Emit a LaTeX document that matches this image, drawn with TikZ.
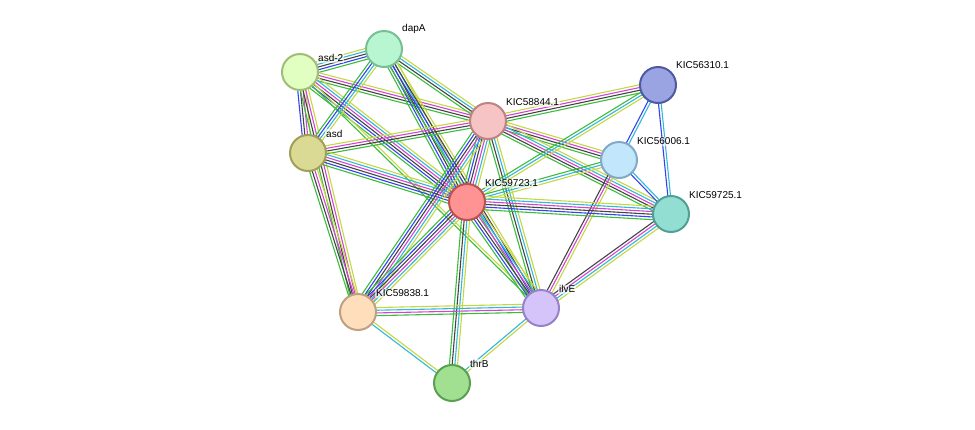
\documentclass[tikz,border=0pt]{standalone}
\usepackage{fontspec}
\setmainfont{Liberation Sans}
\usetikzlibrary{calc,backgrounds}
\definecolor{lnkG}{HTML}{3CBC3C}
\definecolor{lnkB}{HTML}{3344EE}
\definecolor{lnkK}{HTML}{444444}
\definecolor{lnkM}{HTML}{D444D4}
\definecolor{lnkC}{HTML}{33B8D8}
\definecolor{lnkY}{HTML}{C4D844}
\tikzset{
  prot/.style={circle, minimum size=36pt, inner sep=0pt, line width=2pt},
  lbl/.style={font=\fontsize{10}{11}\selectfont, anchor=south west, inner sep=1pt, fill=white, fill opacity=0.6, text opacity=1}
}
% one link = several parallel coloured lines
\newcommand\linkset[3]{%
  \foreach \c [count=\i] in {#3}{\xdef\nlk{\i}}%
  \foreach \c [count=\i] in {#3}{%
    \pgfmathsetmacro\o{(\i-(\nlk+1)/2)*2.7}%
    \draw[\c, line width=1.1pt] ($(#1)!\o pt!90:(#2)$) -- ($(#2)!\o pt!-90:(#1)$);}}
\begin{document}
\begin{tikzpicture}[x=1pt,y=-1pt]
  \useasboundingbox (0,0) rectangle (975,429);

  \node[prot, draw={rgb,255:red,160;green,190;blue,120}, fill={rgb,255:red,224;green,255;blue,192}] (asd2) at (300,72) {};
  \node[prot, draw={rgb,255:red,120;green,190;blue,150}, fill={rgb,255:red,184;green,246;blue,210}] (dapA) at (384,49) {};
  \node[prot, draw={rgb,255:red,190;green,130;blue,130}, fill={rgb,255:red,246;green,196;blue,196}] (k844) at (488,121) {};
  \node[prot, draw={rgb,255:red,80;green,90;blue,160}, fill={rgb,255:red,154;green,164;blue,226}] (k310) at (658,85) {};
  \node[prot, draw={rgb,255:red,160;green,160;blue,90}, fill={rgb,255:red,218;green,218;blue,148}] (asd) at (308,153) {};
  \node[prot, draw={rgb,255:red,130;green,170;blue,200}, fill={rgb,255:red,194;green,230;blue,250}] (k006) at (619,160) {};
  \node[prot, draw={rgb,255:red,190;green,80;blue,80}, fill={rgb,255:red,255;green,146;blue,146}] (k723) at (467,202) {};
  \node[prot, draw={rgb,255:red,80;green,160;blue,150}, fill={rgb,255:red,146;green,222;blue,210}] (k725) at (671,214) {};
  \node[prot, draw={rgb,255:red,190;green,160;blue,130}, fill={rgb,255:red,255;green,222;blue,188}] (k838) at (358,312) {};
  \node[prot, draw={rgb,255:red,150;green,130;blue,200}, fill={rgb,255:red,212;green,196;blue,250}] (ilvE) at (541,308) {};
  \node[prot, draw={rgb,255:red,90;green,160;blue,80}, fill={rgb,255:red,160;green,224;blue,144}] (thrB) at (452,383) {};

  \begin{pgfonlayer}{background}
    \linkset{asd2}{dapA}{lnkG,lnkB,lnkK,lnkC,lnkY}
    \linkset{asd2}{asd}{lnkB,lnkK,lnkM,lnkY}
    \linkset{asd2}{k844}{lnkG,lnkK,lnkM,lnkY}
    \linkset{asd2}{k723}{lnkG,lnkB,lnkK,lnkM,lnkC,lnkY}
    \linkset{asd2}{k838}{lnkG,lnkK,lnkM,lnkY}
    \linkset{asd2}{ilvE}{lnkG,lnkY}
    \linkset{dapA}{asd}{lnkG,lnkB,lnkC,lnkY}
    \linkset{dapA}{k844}{lnkG,lnkK,lnkC,lnkY}
    \linkset{dapA}{k723}{lnkG,lnkB,lnkK,lnkC,lnkY}
    \linkset{dapA}{ilvE}{lnkG,lnkB,lnkK,lnkY}
    \linkset{asd}{k844}{lnkG,lnkK,lnkM,lnkY}
    \linkset{asd}{k723}{lnkG,lnkB,lnkK,lnkM,lnkC,lnkY}
    \linkset{asd}{k838}{lnkG,lnkK,lnkM,lnkY}
    \linkset{k844}{k310}{lnkG,lnkK,lnkM,lnkY}
    \linkset{k844}{k006}{lnkG,lnkK,lnkM,lnkY}
    \linkset{k844}{k725}{lnkG,lnkK,lnkM,lnkC,lnkY}
    \linkset{k844}{k723}{lnkG,lnkB,lnkK,lnkM,lnkC,lnkY}
    \linkset{k844}{ilvE}{lnkG,lnkK,lnkC,lnkY}
    \linkset{k844}{k838}{lnkG,lnkB,lnkK,lnkM,lnkC,lnkY}
    \linkset{k310}{k006}{lnkB,lnkC}
    \linkset{k310}{k725}{lnkB,lnkC}
    \linkset{k310}{k723}{lnkG,lnkC,lnkY}
    \linkset{k006}{k725}{lnkB,lnkC}
    \linkset{k006}{k723}{lnkG,lnkC,lnkY}
    \linkset{k006}{ilvE}{lnkK,lnkM,lnkY}
    \linkset{k723}{k725}{lnkG,lnkB,lnkK,lnkM,lnkC,lnkY}
    \linkset{k723}{ilvE}{lnkG,lnkB,lnkK,lnkM,lnkC,lnkY}
    \linkset{k723}{k838}{lnkG,lnkB,lnkK,lnkM,lnkC,lnkY}
    \linkset{k723}{thrB}{lnkG,lnkK,lnkC,lnkY}
    \linkset{k725}{ilvE}{lnkK,lnkM,lnkC,lnkY}
    \linkset{k838}{ilvE}{lnkG,lnkM,lnkC,lnkY}
    \linkset{k838}{thrB}{lnkC,lnkY}
    \linkset{ilvE}{thrB}{lnkC,lnkY}
  \end{pgfonlayer}

  \node[lbl] at ($(asd2)+(17,-9)$) {asd-2};
  \node[lbl] at ($(dapA)+(17,-14)$) {dapA};
  \node[lbl] at ($(k844)+(17,-14)$) {KIC58844.1};
  \node[lbl] at ($(k310)+(17,-15)$) {KIC56310.1};
  \node[lbl] at ($(asd)+(17,-14)$) {asd};
  \node[lbl] at ($(k006)+(17,-14)$) {KIC56006.1};
  \node[lbl] at ($(k723)+(17,-14)$) {KIC59723.1};
  \node[lbl] at ($(k725)+(17,-14)$) {KIC59725.1};
  \node[lbl] at ($(k838)+(17,-14)$) {KIC59838.1};
  \node[lbl] at ($(ilvE)+(17,-14)$) {ilvE};
  \node[lbl] at ($(thrB)+(17,-14)$) {thrB};
\end{tikzpicture}
\end{document}
